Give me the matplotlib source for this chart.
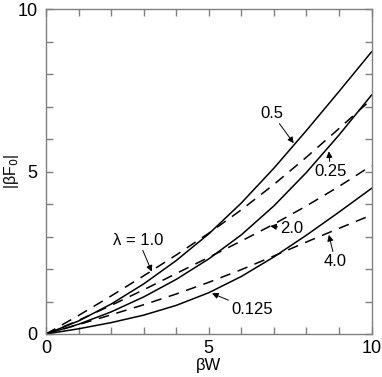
import matplotlib
matplotlib.use("Agg")
import matplotlib.pyplot as plt
from matplotlib.ticker import MultipleLocator

plt.rcParams['font.family'] = ['Liberation Sans', 'DejaVu Sans']

# Data
bw = [0, 1, 2, 3, 4, 5, 6, 7, 8, 9, 10]
solid_0p5 = [0, 0.40, 0.92, 1.54, 2.26, 3.08, 4.03, 5.10, 6.26, 7.46, 8.68]
solid_0p25 = [0, 0.30, 0.68, 1.14, 1.68, 2.31, 3.05, 3.94, 4.97, 6.12, 7.35]
solid_0p125 = [0, 0.16, 0.35, 0.58, 0.88, 1.27, 1.77, 2.37, 3.04, 3.75, 4.48]
dashed_1p0 = [0, 0.57, 1.17, 1.79, 2.43, 3.10, 3.82, 4.60, 5.44, 6.32, 7.22]
dashed_2p0 = [0, 0.42, 0.88, 1.36, 1.86, 2.36, 2.86, 3.38, 3.94, 4.54, 5.18]
dashed_4p0 = [0, 0.29, 0.59, 0.90, 1.23, 1.59, 1.98, 2.40, 2.83, 3.25, 3.66]

labels = ["0.5", "0.25", "0.125", "\u03bb = 1.0", "2.0", "4.0"]
xticks = [0, 5, 10]
yticks = [0, 5, 10]

fig = plt.figure(figsize=(3.82, 3.77), dpi=100)
ax = fig.add_axes([46/382, 1-334/377, (371.5-46)/382, (334-9)/377])

lw = 1.1
ax.plot(bw, solid_0p5, color='black', lw=lw)
ax.plot(bw, solid_0p25, color='black', lw=lw)
ax.plot(bw, solid_0p125, color='black', lw=lw)
dash = (0, (7, 5))
ax.plot(bw, dashed_1p0, color='black', lw=lw, linestyle=dash)
ax.plot(bw, dashed_2p0, color='black', lw=lw, linestyle=dash)
ax.plot(bw, dashed_4p0, color='black', lw=lw, linestyle=dash)

ax.set_xlim(0, 10)
ax.set_ylim(0, 10)
ax.set_xticks(xticks)
ax.set_yticks(yticks)
ax.set_xticklabels([str(v) for v in xticks])
ax.set_yticklabels([str(v) for v in yticks])
ax.xaxis.set_minor_locator(MultipleLocator(1))
ax.yaxis.set_minor_locator(MultipleLocator(1))
spine_col = '#808080'
for s in ax.spines.values():
    s.set_color(spine_col)
    s.set_linewidth(1.0)
ax.tick_params(which='both', direction='in', top=True, right=True,
               color=spine_col, width=1.0, labelsize=13)
ax.tick_params(which='major', length=5, pad=4)
ax.tick_params(which='minor', length=5)
ax.tick_params(axis='y', pad=6)

ax.set_xlabel('\u03b2W', fontsize=12, labelpad=1)
ax.set_ylabel('|\u03b2F$_0$|', fontsize=11.5)
ax.yaxis.set_label_coords(-0.078, 0.5)

arrow = dict(arrowstyle='-|>', color='black', lw=0.7, mutation_scale=9,
             shrinkA=0, shrinkB=0)
fs = 12
ann = [
    (labels[0], (7.61, 5.87), (6.94, 6.79)),
    (labels[1], (8.69, 5.62), (8.74, 4.99)),
    (labels[2], (5.10, 1.25), (6.33, 0.74)),
    (labels[3], (3.25, 1.92), (2.84, 2.89)),
    (labels[4], (6.89, 3.32), (7.56, 3.25)),
    (labels[5], (8.69, 3.05), (8.89, 2.22)),
]
for txt, tip, pos in ann:
    ax.annotate(txt, xy=tip, xytext=pos, fontsize=fs, ha='center', va='center',
                arrowprops=arrow)

fig.savefig('out.png', dpi=100)
